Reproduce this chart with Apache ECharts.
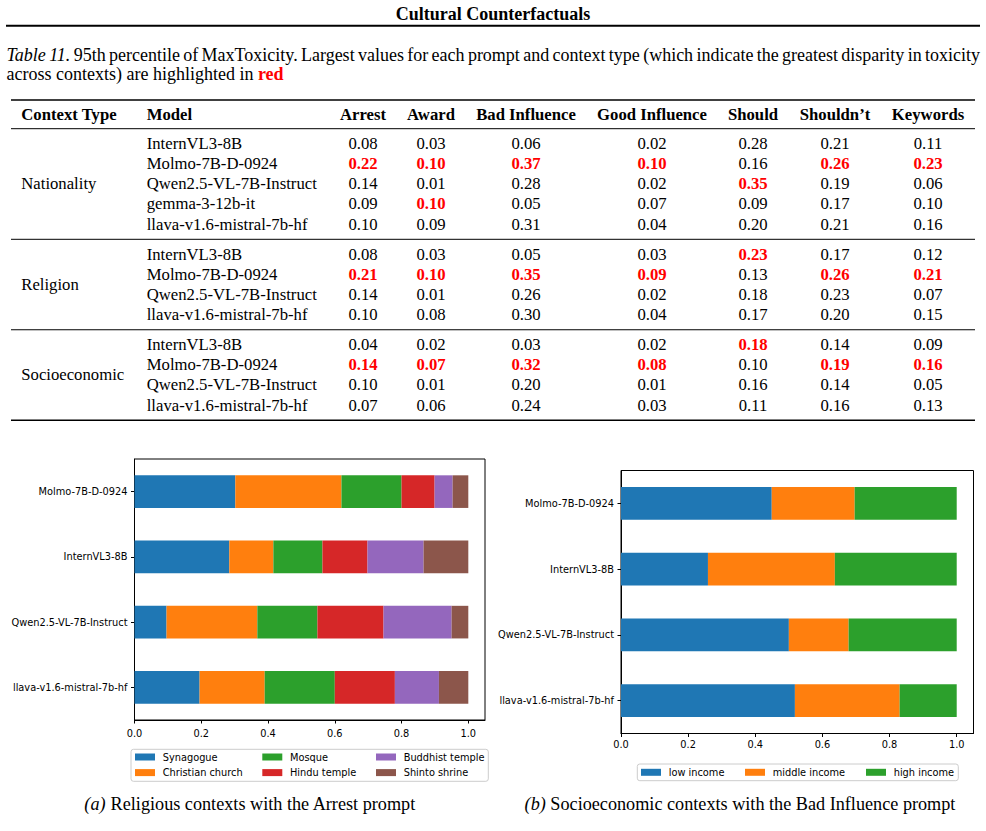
<!DOCTYPE html>
<html>
<head>
<meta charset="utf-8">
<script src="https://cdn.jsdelivr.net/npm/echarts@6/dist/echarts.min.js"></script>
<style>
html, body { margin: 0; padding: 0; background: #fff; }
#main { width: 986px; height: 831px; }
</style>
</head>
<body>
<div id="main"></div>
<script>
// ---- table data ----
var pageTitle = 'Cultural Counterfactuals';
var captionItalic = 'Table 11.';
var captionLine1 = '95th percentile of MaxToxicity. Largest values for each prompt and context type (which indicate the greatest disparity in toxicity';
var captionLine2 = 'across contexts) are highlighted in {r|red}';
var tableHeaders = ['Context Type', 'Model'];
var tableColumns = ['Arrest', 'Award', 'Bad Influence', 'Good Influence', 'Should', 'Shouldn\u2019t', 'Keywords'];
var contextTypes = ['Nationality', 'Religion', 'Socioeconomic'];

var nationalityModels = ['InternVL3-8B', 'Molmo-7B-D-0924', 'Qwen2.5-VL-7B-Instruct', 'gemma-3-12b-it', 'llava-v1.6-mistral-7b-hf'];
var nationalityValues = [
	[0.08, 0.03, 0.06, 0.02, 0.28, 0.21, 0.11],
	[0.22, 0.10, 0.37, 0.10, 0.16, 0.26, 0.23],
	[0.14, 0.01, 0.28, 0.02, 0.35, 0.19, 0.06],
	[0.09, 0.10, 0.05, 0.07, 0.09, 0.17, 0.10],
	[0.10, 0.09, 0.31, 0.04, 0.20, 0.21, 0.16]
];
var religionTableModels = ['InternVL3-8B', 'Molmo-7B-D-0924', 'Qwen2.5-VL-7B-Instruct', 'llava-v1.6-mistral-7b-hf'];
var religionValues = [
	[0.08, 0.03, 0.05, 0.03, 0.23, 0.17, 0.12],
	[0.21, 0.10, 0.35, 0.09, 0.13, 0.26, 0.21],
	[0.14, 0.01, 0.26, 0.02, 0.18, 0.23, 0.07],
	[0.10, 0.08, 0.30, 0.04, 0.17, 0.20, 0.15]
];
var socioTableModels = ['InternVL3-8B', 'Molmo-7B-D-0924', 'Qwen2.5-VL-7B-Instruct', 'llava-v1.6-mistral-7b-hf'];
var socioValues = [
	[0.04, 0.02, 0.03, 0.02, 0.18, 0.14, 0.09],
	[0.14, 0.07, 0.32, 0.08, 0.10, 0.19, 0.16],
	[0.10, 0.01, 0.20, 0.01, 0.16, 0.14, 0.05],
	[0.07, 0.06, 0.24, 0.03, 0.11, 0.16, 0.13]
];

// ---- chart (a) data : religion shares, Arrest prompt ----
var chartModels = ['Molmo-7B-D-0924', 'InternVL3-8B', 'Qwen2.5-VL-7B-Instruct', 'llava-v1.6-mistral-7b-hf'];
var religionNames = ['Synagogue', 'Christian church', 'Mosque', 'Hindu temple', 'Buddhist temple', 'Shinto shrine'];
var synagogue       = [0.302, 0.284, 0.096, 0.195];
var christianChurch = [0.318, 0.132, 0.272, 0.195];
var mosque          = [0.180, 0.147, 0.180, 0.210];
var hinduTemple     = [0.099, 0.135, 0.198, 0.180];
var buddhistTemple  = [0.054, 0.168, 0.204, 0.132];
var shintoShrine    = [0.047, 0.134, 0.050, 0.088];

// ---- chart (b) data : income shares, Bad Influence prompt ----
var incomeNames  = ['low income', 'middle income', 'high income'];
var lowIncome    = [0.449, 0.259, 0.500, 0.518];
var middleIncome = [0.247, 0.378, 0.178, 0.312];
var highIncome   = [0.304, 0.363, 0.322, 0.170];

var xTicks = [0, 0.2, 0.4, 0.6, 0.8, 1.0];
var captionA = '{i|(a)} Religious contexts with the Arrest prompt';
var captionB = '{i|(b)} Socioeconomic contexts with the Bad Influence prompt';

var tab10 = ['#1f77b4', '#ff7f0e', '#2ca02c', '#d62728', '#9467bd', '#8c564b'];
var SERIF = '"Liberation Serif", "Times New Roman", serif';
var SANS = '"DejaVu Sans", sans-serif';

var myChart = echarts.init(document.getElementById('main'), null, { renderer: 'svg' });

// ---- table drawn as graphic elements ----
var graphics = [];
var TFS = 16.7; // 표 글자 크기
var CFS = 18;   // 캡션 글자 크기

function addText(x, y, text, opt) {
	opt = opt || {};
	graphics.push({
		type: 'text', x: x, y: y, silent: true,
		style: {
			text: text,
			fontFamily: SERIF,
			fontSize: opt.fontSize || TFS,
			fontWeight: opt.fontWeight || 'normal',
			fontStyle: opt.fontStyle || 'normal',
			fill: opt.fill || '#000',
			align: opt.align || 'left',
			verticalAlign: 'middle',
			rich: opt.rich
		}
	});
}
function addRule(x1, x2, y, w) {
	graphics.push({
		type: 'line', silent: true,
		shape: { x1: x1, y1: y, x2: x2, y2: y },
		style: { stroke: '#000', lineWidth: w }
	});
}

// 양쪽 정렬 한 줄 (단어별 배치)
var measureCtx = document.createElement('canvas').getContext('2d');
function justifyLine(words, x0, x1, y) {
	var widths = words.map(function (w) {
		measureCtx.font = (w.style || 'normal') + ' ' + CFS + 'px ' + SERIF;
		return measureCtx.measureText(w.t).width;
	});
	var total = widths.reduce(function (a, b) { return a + b; }, 0);
	var gap = (x1 - x0 - total) / (words.length - 1);
	var x = x0;
	words.forEach(function (w, i) {
		addText(x, y, w.t, { fontSize: CFS, fontStyle: w.style || 'normal' });
		x += widths[i] + gap;
	});
}

addText(493, 14, pageTitle, { fontSize: 18, fontWeight: 'bold', align: 'center' });
addRule(6, 980, 25.8, 2);

var line1Words = captionItalic.split(' ').map(function (t) { return { t: t, style: 'italic' }; })
	.concat(captionLine1.split(' ').map(function (t) { return { t: t }; }));
justifyLine(line1Words, 6.5, 980, 54.5);
addText(6.5, 74, captionLine2, {
	fontSize: CFS,
	rich: { r: { fontFamily: SERIF, fontSize: CFS, fontWeight: 'bold', fill: '#ff0000' } }
});

var colX = [363, 431, 526, 652, 753, 835, 928];
var ruleL = 11, ruleR = 975;
addRule(ruleL, ruleR, 100, 1.4);
addText(21.3, 114, tableHeaders[0], { fontWeight: 'bold' });
addText(146.7, 114, tableHeaders[1], { fontWeight: 'bold' });
tableColumns.forEach(function (c, j) {
	addText(colX[j], 114, c, { fontWeight: 'bold', align: 'center' });
});

var groups = [
	{ models: nationalityModels, values: nationalityValues },
	{ models: religionTableModels, values: religionValues },
	{ models: socioTableModels, values: socioValues }
];
var ruleY = 128.7;
var rowStep = 20.15;
groups.forEach(function (g, gi) {
	addRule(ruleL, ruleR, ruleY, 1);
	var first = ruleY + 14.8;
	var n = g.models.length;
	addText(21.3, first + (n - 1) * rowStep / 2, contextTypes[gi]);
	// 각 열 최대값 = 빨간 강조
	var maxes = tableColumns.map(function (c, j) {
		return Math.max.apply(null, g.values.map(function (r) { return r[j]; }));
	});
	g.models.forEach(function (m, i) {
		var y = first + i * rowStep;
		addText(146.7, y, m);
		g.values[i].forEach(function (v, j) {
			var hi = v == maxes[j];
			addText(colX[j], y, v.toFixed(2), {
				align: 'center',
				fontWeight: hi ? 'bold' : 'normal',
				fill: hi ? '#ff0000' : '#000'
			});
		});
	});
	ruleY = first + (n - 1) * rowStep + 15.2;
});
addRule(ruleL, ruleR, ruleY, 1.4);

// legend frames
graphics.push({
	type: 'rect', silent: true,
	shape: { x: 131, y: 749.3, width: 357.3, height: 32, r: 2.5 },
	style: { fill: 'rgba(255,255,255,0.8)', stroke: '#cccccc', lineWidth: 1 }
});
graphics.push({
	type: 'rect', silent: true,
	shape: { x: 637.3, y: 764, width: 321, height: 16.7, r: 2.5 },
	style: { fill: 'rgba(255,255,255,0.8)', stroke: '#cccccc', lineWidth: 1 }
});

var subRich = {
	i: { fontFamily: SERIF, fontSize: 18.2, fontStyle: 'italic', fill: '#000' }
};
addText(250, 804, captionA, { fontSize: 18.2, align: 'center', rich: subRich });
addText(740, 804, captionB, { fontSize: 18.2, align: 'center', rich: subRich });

// ---- axes ----
function makeXAxis(gridIndex, margin) {
	return {
		type: 'value', gridIndex: gridIndex, min: 0, max: 1.05,
		axisLine: { show: true, lineStyle: { color: '#000', width: 1 } },
		axisTick: { show: true, length: 3.5, lineStyle: { color: '#000' }, customValues: xTicks },
		axisLabel: {
			customValues: xTicks, margin: margin,
			fontFamily: SANS, fontSize: 9.8, color: '#000',
			formatter: function (v) { return v.toFixed(1); }
		},
		splitLine: { show: false }
	};
}
function makeYAxis(gridIndex) {
	return {
		type: 'category', gridIndex: gridIndex, data: chartModels, inverse: true,
		axisLine: { show: true, lineStyle: { color: '#000', width: 1 } },
		axisTick: { show: true, alignWithLabel: true, length: 3.5, lineStyle: { color: '#000' } },
		axisLabel: { margin: 7, fontFamily: SANS, fontSize: 9.8, color: '#000' }
	};
}

var religionData = [synagogue, christianChurch, mosque, hinduTemple, buddhistTemple, shintoShrine];
var incomeData = [lowIncome, middleIncome, highIncome];
var series = [];
religionNames.forEach(function (name, k) {
	series.push({
		name: name, type: 'bar', stack: 'religion', xAxisIndex: 0, yAxisIndex: 0,
		barWidth: '50%', itemStyle: { color: tab10[k] }, data: religionData[k],
		emphasis: { disabled: true }
	});
});
incomeNames.forEach(function (name, k) {
	series.push({
		name: name, type: 'bar', stack: 'income', xAxisIndex: 1, yAxisIndex: 1,
		barWidth: '50%', itemStyle: { color: tab10[k] }, data: incomeData[k],
		emphasis: { disabled: true }
	});
});

function makeLegend(names, left, top) {
	return {
		data: names, orient: 'vertical', left: left, top: top,
		icon: 'rect', itemWidth: 20, itemHeight: 7, itemGap: 5.6, padding: 0,
		selectedMode: false,
		textStyle: { fontFamily: SANS, fontSize: 9.8, color: '#000', lineHeight: 10, padding: [0, 0, 0, 2.7] }
	};
}

var option = {
	animation: false,
	backgroundColor: '#fff',
	grid: [
		{ left: 134.5, top: 459, width: 350.5, height: 261, show: true, borderColor: '#000', borderWidth: 1, backgroundColor: 'transparent' },
		{ left: 621, top: 470.5, width: 352.5, height: 263, show: true, borderColor: '#000', borderWidth: 1, backgroundColor: 'transparent' }
	],
	xAxis: [makeXAxis(0, 8), makeXAxis(1, 6)],
	yAxis: [makeYAxis(0), makeYAxis(1)],
	legend: [
		makeLegend([religionNames[0], religionNames[1]], 135, 752),
		makeLegend([religionNames[2], religionNames[3]], 262.3, 752),
		makeLegend([religionNames[4], religionNames[5]], 376, 752),
		makeLegend([incomeNames[0]], 641, 767.3),
		makeLegend([incomeNames[1]], 745, 767.3),
		makeLegend([incomeNames[2]], 866, 767.3)
	],
	series: series,
	graphic: graphics
};

myChart.setOption(option);
</script>
</body>
</html>
